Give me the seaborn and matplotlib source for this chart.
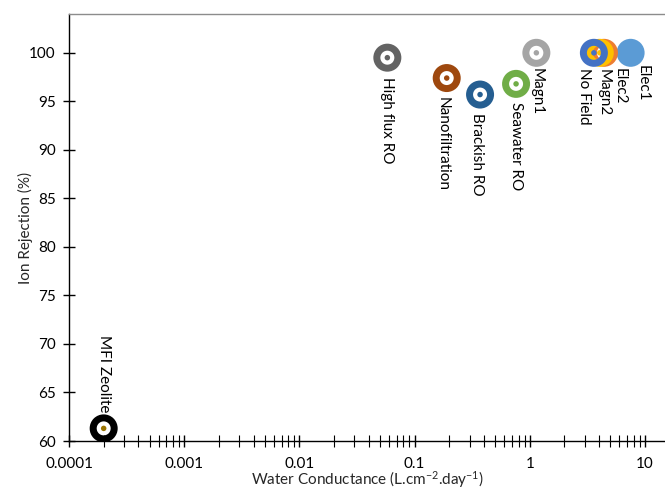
import matplotlib
matplotlib.use("Agg")
import matplotlib.pyplot as plt
import matplotlib.ticker as mticker
import numpy as np
import pandas as pd
import seaborn as sns

# Membrane / treatment performance
names = ["MFI Zeolite", "High flux RO", "Nanofiltration", "Brackish RO",
         "Seawater RO", "Magn1", "Elec1", "Elec2", "Magn2", "No Field"]
conductance = [0.0002, 0.058, 0.19, 0.37, 0.76, 1.14, 7.5, 4.4, 4.05, 3.6]
rejection = [61.3, 99.5, 97.4, 95.7, 96.8, 100.0, 100.0, 100.0, 100.0, 100.0]

ring_colors = ["#000000", "#636363", "#9E480E", "#255E91", "#70AD47",
               "#A5A5A5", "#5B9BD5", "#ED7D31", "#FFC000", "#4472C4"]
dot_colors = ["#997300", "#636363", "#9E480E", "#255E91", "#70AD47",
              "#A5A5A5", "#5B9BD5", "#ED7D31", "#FFC000", "#4472C4"]

y_ticks = [60, 65, 70, 75, 80, 85, 90, 95, 100]
x_ticks = [0.0001, 0.001, 0.01, 0.1, 1, 10]
x_ticklabels = ["0.0001", "0.001", "0.01", "0.1", "1", "10"]

# label offsets (points) from each marker: dx, dy, placed below (or above)
label_offsets = {
    "MFI Zeolite": (0.5, 11.5, "above"),
    "High flux RO": (-0.5, -14.0, "below"),
    "Nanofiltration": (-3.0, -13.5, "below"),
    "Brackish RO": (-2.0, -13.5, "below"),
    "Seawater RO": (0.0, -13.0, "below"),
    "Magn1": (0.5, -11.0, "below"),
    "Elec1": (9.0, -8.5, "below"),
    "Elec2": (11.0, -11.0, "below"),
    "Magn2": (3.0, -11.5, "below"),
    "No Field": (-7.0, -11.0, "below"),
}

df = pd.DataFrame({"name": names, "conductance": conductance, "rejection": rejection})

sns.set_style("white")
plt.rcParams["font.family"] = ["Lato", "DejaVu Sans"]
plt.rcParams["mathtext.fontset"] = "custom"
plt.rcParams["mathtext.rm"] = "Lato"
plt.rcParams["mathtext.it"] = "Lato:italic"
plt.rcParams["mathtext.default"] = "regular"

fig = plt.figure(figsize=(6.65, 4.91), dpi=100)
ax = fig.add_axes([69 / 665, 50 / 491, 596 / 665, 427 / 491])

px = 0.72  # points per pixel at 100 dpi
ring_size = (21 * px) ** 2
ring_width = 7 * px
dot_size = (5.5 * px) ** 2
solid_size = (28 * px) ** 2

for i, row in df.iterrows():
    sub = df.iloc[[i]]
    if row["name"] == "Elec1":
        sns.scatterplot(data=sub, x="conductance", y="rejection", ax=ax,
                        s=solid_size, color=ring_colors[i], edgecolor="none",
                        linewidth=0, zorder=3 + i, legend=False)
        continue
    sns.scatterplot(data=sub, x="conductance", y="rejection", ax=ax,
                    s=ring_size, facecolors="none", edgecolor=ring_colors[i],
                    linewidth=ring_width, zorder=3 + i, legend=False)
    sns.scatterplot(data=sub, x="conductance", y="rejection", ax=ax,
                    s=dot_size, color=dot_colors[i], edgecolor="none",
                    linewidth=0, zorder=3 + i, legend=False)

for name, xv, yv in zip(names, conductance, rejection):
    dx, dy, where = label_offsets[name]
    ax.annotate(name, xy=(xv, yv), xytext=(dx, dy), textcoords="offset points",
                rotation=270, rotation_mode="anchor",
                ha="left" if where == "below" else "right", va="center",
                fontsize=11, color="#000000", zorder=20)

ax.set_xscale("log")
ax.set_xlim(1e-4, 10 ** (1 + 20 / 115.2))
ax.set_ylim(60, 104)

ax.set_yticks(y_ticks)
ax.set_yticklabels([str(v) for v in y_ticks])
ax.set_xticks(x_ticks)
ax.set_xticklabels(x_ticklabels)
ax.xaxis.set_minor_locator(mticker.LogLocator(base=10, subs=np.arange(2, 10), numticks=30))
ax.xaxis.set_minor_formatter(mticker.NullFormatter())

ax.tick_params(axis="both", which="major", direction="inout", length=9,
               width=1, color="#000000", labelsize=11, labelcolor="#000000",
               bottom=True, left=True)
ax.tick_params(axis="x", which="major", pad=7)
ax.tick_params(axis="y", which="major", pad=5)
ax.tick_params(axis="x", which="minor", direction="inout", length=8,
               width=0.8, color="#000000", bottom=True)
ax.tick_params(axis="y", which="minor", left=False)

for side in ["left", "bottom"]:
    ax.spines[side].set_color("#000000")
    ax.spines[side].set_linewidth(1.0)
ax.spines["top"].set_color("#8C8C8C")
ax.spines["top"].set_linewidth(1.0)
ax.spines["right"].set_visible(False)

ax.set_xlabel(r"Water Conductance (L.cm$^{-2}$.day$^{-1}$)", fontsize=11, labelpad=-1)
ax.set_ylabel("Ion Rejection (%)", fontsize=11, labelpad=-3)

fig.savefig("out.png", dpi=100)
